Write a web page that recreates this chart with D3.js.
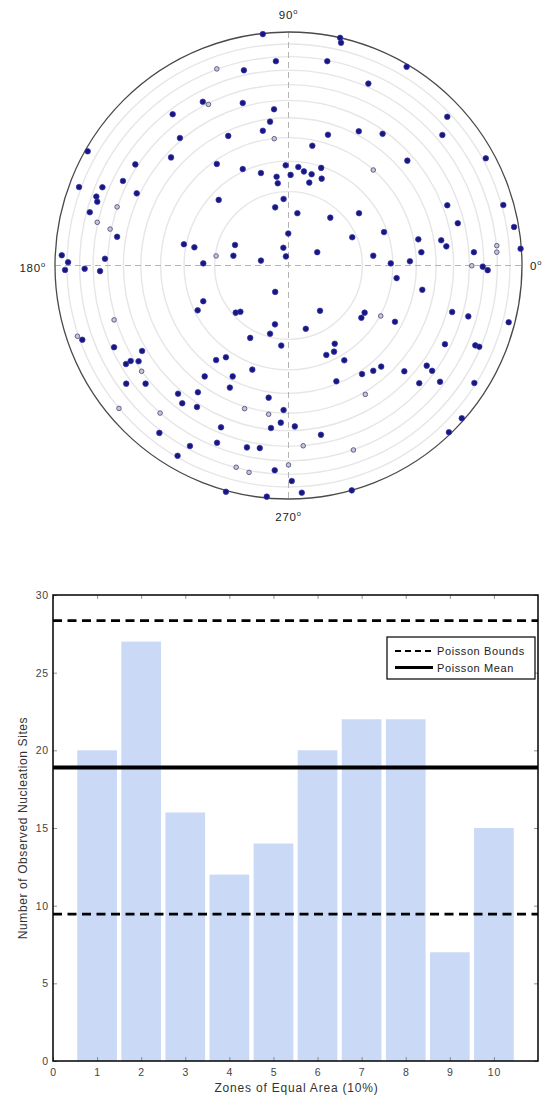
<!DOCTYPE html>
<html>
<head>
<meta charset="utf-8">
<script src="https://cdn.jsdelivr.net/npm/d3@7"></script>
<style>
  html, body { margin: 0; padding: 0; background: #fff; }
  svg { display: block; font-family: "Liberation Sans", Arial, sans-serif; }
</style>
</head>
<body>
<svg id="chart" width="547" height="1099"></svg>
<script>
// ---------- Data ----------
// Nucleation site positions on the unit disk (normalized x, y)
const siteX = [
  -0.110,-0.054,-0.307,-0.191,-0.367,-0.343,-0.196,-0.062,-0.496,-0.079,
  -0.110,-0.258,-0.061,-0.465,-0.860,-0.503,-0.656,-0.307,-0.196,-0.118,
  -0.012,-0.051,-0.046,-0.709,-0.797,-0.897,-0.650,-0.823,-0.819,-0.299,
  -0.021,-0.057,-0.734,-0.851,-0.819,-0.764,-0.734,-0.001,-0.448,-0.403,
  -0.229,-0.022,-0.310,-0.236,-0.971,-0.944,-0.786,-0.365,-0.118,-0.011,
  0.221,0.225,0.166,0.506,0.342,0.680,0.169,0.301,0.403,0.659,
  0.102,0.509,0.845,0.042,0.066,0.009,0.099,0.140,0.142,0.089,
  0.363,0.680,0.920,0.038,0.179,0.302,0.725,0.966,0.409,0.273,
  0.556,0.654,0.676,0.123,0.363,0.569,0.794,0.892,0.892,0.994,
  0.438,0.520,0.785,0.832,0.853,
  -0.957,-0.873,-0.807,-0.057,-0.365,-0.389,-0.226,-0.206,-0.747,-0.058,
  -0.079,-0.164,-0.031,-0.904,-0.883,-0.747,-0.627,-0.696,-0.676,-0.642,
  -0.629,-0.310,-0.268,-0.155,-0.359,-0.239,-0.251,-0.695,-0.612,-0.473,
  -0.388,-0.085,-0.455,-0.392,-0.188,-0.085,-0.021,-0.033,-0.075,-0.726,
  -0.550,-0.553,-0.289,-0.422,-0.306,-0.178,-0.123,-0.475,-0.224,-0.169,
  -0.059,0.000,-0.268,-0.093,0.014,
  0.463,0.573,0.135,0.326,0.312,0.395,0.456,0.701,0.770,0.943,
  0.074,0.198,0.195,0.162,0.239,0.670,0.800,0.817,0.363,0.397,
  0.315,0.496,0.592,0.615,0.649,0.560,0.796,0.205,0.329,0.027,
  0.139,0.063,0.278,0.742,0.687,0.057,0.271
];
const siteY = [
  0.991,0.875,0.842,0.836,0.701,0.690,0.696,0.669,0.648,0.616,
  0.577,0.555,0.543,0.546,0.489,0.463,0.433,0.435,0.413,0.396,
  0.429,0.380,0.352,0.362,0.335,0.336,0.309,0.295,0.273,0.281,
  0.285,0.249,0.251,0.228,0.185,0.156,0.123,0.137,0.091,0.078,
  0.088,0.076,0.041,0.042,0.044,0.014,0.029,0.009,0.021,0.039,
  0.975,0.954,0.875,0.851,0.779,0.637,0.560,0.575,0.564,0.559,
  0.513,0.449,0.459,0.422,0.403,0.388,0.391,0.418,0.372,0.355,
  0.409,0.258,0.259,0.224,0.205,0.224,0.181,0.165,0.143,0.121,
  0.112,0.108,0.082,0.057,0.042,0.057,0.057,0.085,0.057,0.072,
  0.009,0.018,-0.001,-0.005,-0.020,
  -0.019,-0.014,-0.024,-0.113,-0.153,-0.192,-0.202,-0.198,-0.233,-0.252,
  -0.292,-0.310,-0.343,-0.303,-0.318,-0.350,-0.366,-0.422,-0.409,-0.410,
  -0.453,-0.405,-0.393,-0.446,-0.475,-0.475,-0.523,-0.506,-0.506,-0.549,
  -0.543,-0.566,-0.590,-0.606,-0.613,-0.637,-0.619,-0.673,-0.696,-0.612,
  -0.632,-0.717,-0.693,-0.773,-0.759,-0.779,-0.782,-0.815,-0.864,-0.886,
  -0.877,-0.854,-0.969,-0.990,-0.923,
  -0.054,-0.104,-0.194,-0.202,-0.224,-0.216,-0.241,-0.199,-0.218,-0.243,
  -0.271,-0.335,-0.369,-0.383,-0.406,-0.337,-0.342,-0.348,-0.451,-0.433,
  -0.465,-0.453,-0.429,-0.451,-0.498,-0.504,-0.503,-0.496,-0.552,-0.689,
  -0.725,-0.772,-0.790,-0.654,-0.714,-0.973,-0.963
];
// sites drawn with the lighter "open" marker (1-based index)
const openSites = [3,6,13,33,35,36,43,71,88,89,93,104,109,116,130,131,135,136,144,145,147,156,179,182,183];
// equal-area zone boundaries (fraction of total area)
const zoneAreaFractions = [0.1,0.2,0.3,0.4,0.5,0.6,0.7,0.8,0.9];
const angleLabels = [
  { angle: 90, text: "90" },
  { angle: 0, text: "0" },
  { angle: 180, text: "180" },
  { angle: 270, text: "270" }
];

// Histogram
const zones = [1,2,3,4,5,6,7,8,9,10];
const counts = [20,27,16,12,14,20,22,22,7,15];
const poissonMean = 18.9;
const poissonBounds = [9.45, 28.35];
const xTicks = [0,1,2,3,4,5,6,7,8,9,10];
const yTicks = [0,5,10,15,20,25,30];
const legendItems = [
  { label: "Poisson Bounds", dashed: true },
  { label: "Poisson Mean", dashed: false }
];

// ---------- Polar plot ----------
const svg = d3.select("#chart");
const cx = 288.5, cy = 265.5, R = 233.5;
const px = d3.scaleLinear().domain([-1, 1]).range([cx - R, cx + R]);
const py = d3.scaleLinear().domain([-1, 1]).range([cy + R, cy - R]);
const pr = d3.scaleLinear().domain([0, 1]).range([0, R]);

const polar = svg.append("g");
polar.selectAll("circle.ring").data(zoneAreaFractions).join("circle")
  .attr("class", "ring")
  .attr("cx", px(0)).attr("cy", py(0))
  .attr("r", d => pr(Math.sqrt(d)))
  .attr("fill", "none").attr("stroke", "#e6e6e6").attr("stroke-width", 1.4);

polar.append("line")
  .attr("x1", px(-1)).attr("x2", px(1)).attr("y1", py(0)).attr("y2", py(0))
  .attr("stroke", "#b4b4b4").attr("stroke-width", 1).attr("stroke-dasharray", "6,4");
polar.append("line")
  .attr("x1", px(0)).attr("x2", px(0)).attr("y1", py(1)).attr("y2", py(-1))
  .attr("stroke", "#b4b4b4").attr("stroke-width", 1).attr("stroke-dasharray", "6,4");

polar.append("circle")
  .attr("cx", px(0)).attr("cy", py(0)).attr("r", pr(1))
  .attr("fill", "none").attr("stroke", "#4a4a4a").attr("stroke-width", 1.3);

const sites = siteX.map((x, i) => ({ x, y: siteY[i], open: openSites.includes(i + 1) }));
polar.selectAll("circle.open").data(sites.filter(d => d.open)).join("circle")
  .attr("class", "open")
  .attr("cx", d => px(d.x)).attr("cy", d => py(d.y)).attr("r", 2.3)
  .attr("fill", "#c4c6dc").attr("stroke", "#55557a").attr("stroke-width", 0.9);
polar.selectAll("circle.site").data(sites.filter(d => !d.open)).join("circle")
  .attr("class", "site")
  .attr("cx", d => px(d.x)).attr("cy", d => py(d.y)).attr("r", 2.8)
  .attr("fill", "#18187c").attr("stroke", "#3535b5").attr("stroke-width", 0.7);

// angle labels
const labelOffset = { 90: [0, -13], 0: [8, 4], 180: [-9, 6], 270: [0, 22] };
angleLabels.forEach(a => {
  const rad = a.angle * Math.PI / 180;
  const bx = px(Math.cos(rad)), by = py(Math.sin(rad));
  const off = labelOffset[a.angle];
  const anchor = a.angle === 0 ? "start" : (a.angle === 180 ? "end" : "middle");
  const t = polar.append("text")
    .attr("x", bx + off[0]).attr("y", by + off[1])
    .attr("text-anchor", anchor)
    .attr("font-size", 11.5).attr("letter-spacing", 0.8).attr("fill", "#222");
  t.append("tspan").text(a.text);
  t.append("tspan").attr("font-size", 7.5).attr("dy", -5).text("o");
});

// ---------- Histogram ----------
const x0 = 53, x1 = 538, yTop = 595, yBot = 1061;
const xs = d3.scaleLinear().domain([0, 11]).range([x0, x1]);
const ys = d3.scaleLinear().domain([0, 30]).range([yBot, yTop]);
const hist = svg.append("g");

hist.selectAll("rect.bar").data(zones).join("rect")
  .attr("class", "bar")
  .attr("x", d => xs(d - 0.45))
  .attr("width", xs(0.9) - xs(0))
  .attr("y", (d, i) => ys(counts[i]))
  .attr("height", (d, i) => ys(0) - ys(counts[i]))
  .attr("fill", "#c9d9f6");

// Poisson lines
poissonBounds.forEach(b => {
  hist.append("line")
    .attr("x1", xs(0)).attr("x2", xs(11)).attr("y1", ys(b)).attr("y2", ys(b))
    .attr("stroke", "#000").attr("stroke-width", 2.8).attr("stroke-dasharray", "9,5.5");
});
hist.append("line")
  .attr("x1", xs(0)).attr("x2", xs(11)).attr("y1", ys(poissonMean)).attr("y2", ys(poissonMean))
  .attr("stroke", "#000").attr("stroke-width", 4);

// axes
const axB = d3.axisBottom(xs).tickValues(xTicks).tickSize(-4).tickPadding(8).tickFormat(d3.format("d"));
const axT = d3.axisTop(xs).tickValues(xTicks).tickSize(-4).tickFormat("");
const axL = d3.axisLeft(ys).tickValues(yTicks).tickSize(-4).tickPadding(4).tickFormat(d3.format("d"));
const axR = d3.axisRight(ys).tickValues(yTicks).tickSize(-4).tickFormat("");

function styleAxis(g) {
  g.select(".domain").remove();
  g.selectAll(".tick line").attr("stroke", "#777").attr("stroke-width", 0.8);
  g.selectAll(".tick text").attr("font-size", 10.5).attr("fill", "#444")
    .attr("letter-spacing", 0.8)
    .attr("font-family", "'Liberation Sans', Arial, sans-serif");
}
hist.append("g").attr("transform", `translate(0,${yBot})`).call(axB).call(styleAxis);
hist.append("g").attr("transform", `translate(0,${yTop})`).call(axT).call(styleAxis);
hist.append("g").attr("transform", `translate(${x0},0)`).call(axL).call(styleAxis);
hist.append("g").attr("transform", `translate(${x1},0)`).call(axR).call(styleAxis);

hist.append("rect")
  .attr("x", x0).attr("y", yTop).attr("width", x1 - x0).attr("height", yBot - yTop)
  .attr("fill", "none").attr("stroke", "#000").attr("stroke-width", 1.5);

// axis labels
hist.append("text")
  .attr("x", (x0 + x1) / 2 + 1).attr("y", 1092)
  .attr("text-anchor", "middle").attr("font-size", 12).attr("letter-spacing", 0.8).attr("fill", "#333")
  .text("Zones of Equal Area (10%)");
hist.append("text")
  .attr("transform", `translate(27,${(yTop + yBot) / 2}) rotate(-90)`)
  .attr("text-anchor", "middle").attr("font-size", 12).attr("letter-spacing", 0.6).attr("fill", "#333")
  .text("Number of Observed Nucleation Sites");

// legend
const lg = hist.append("g").attr("transform", "translate(387,637)");
lg.append("rect").attr("width", 148).attr("height", 42)
  .attr("fill", "#fff").attr("stroke", "#000").attr("stroke-width", 1.2);
legendItems.forEach((it, i) => {
  const yy = 14 + i * 16.5;
  lg.append("line").attr("x1", 8).attr("x2", 46).attr("y1", yy).attr("y2", yy)
    .attr("stroke", "#000").attr("stroke-width", it.dashed ? 2 : 2.8)
    .attr("stroke-dasharray", it.dashed ? "6,4" : null);
  lg.append("text").attr("x", 50).attr("y", yy + 4)
    .attr("font-size", 11).attr("letter-spacing", 0.6).attr("fill", "#222").text(it.label);
});
</script>
</body>
</html>
